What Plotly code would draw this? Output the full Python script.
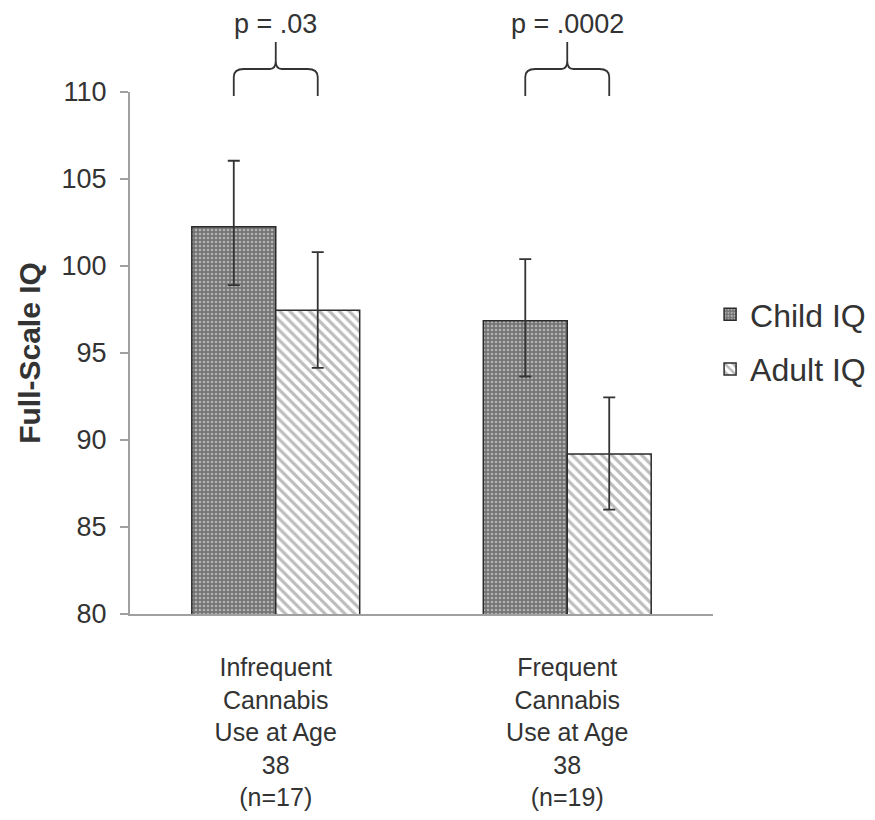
import plotly.graph_objects as go

categories = ["Infrequent<br>Cannabis<br>Use at Age<br>38<br>(n=17)",
              "Frequent<br>Cannabis<br>Use at Age<br>38<br>(n=19)"]
child_iq = [102.25, 96.85]
child_err_plus = [3.8, 3.55]
child_err_minus = [3.35, 3.2]
adult_iq = [97.45, 89.2]
adult_err_plus = [3.35, 3.25]
adult_err_minus = [3.3, 3.2]
p_labels = ["p = .03", "p = .0002"]

FONT = "Liberation Sans, Arial, sans-serif"
TXT = "#333333"

fig = go.Figure()
fig.add_trace(go.Bar(
    name="Child IQ", x=[0, 1], y=child_iq, legendgroup="c",
    marker=dict(color="#7a7a7a", line=dict(color="#2b2b2b", width=1.5),
                pattern=dict(shape=".", bgcolor="#747474", fgcolor="#f2f2f2",
                             size=4, solidity=0.35)),
    error_y=dict(type="data", array=child_err_plus, arrayminus=child_err_minus,
                 color="#333333", thickness=1.8, width=6),
))
fig.add_trace(go.Bar(
    name="Adult IQ", x=[0, 1], y=adult_iq, legendgroup="a",
    marker=dict(color="white", line=dict(color="#2b2b2b", width=1.5),
                pattern=dict(shape="\\", bgcolor="white", fgcolor="#7a7a7a",
                             size=7, solidity=0.45)),
    error_y=dict(type="data", array=adult_err_plus, arrayminus=adult_err_minus,
                 color="#333333", thickness=1.8, width=6),
))

# braces between paired bars
half = (1 - 0.424) / 4  # half distance between bar centers within group
rx = 10 / 291.5
yb, yh, yt = (614 - 96) / 522, (614 - 69) / 522, (614 - 42) / 522
ry = 8 / 522
for i, lab in enumerate(p_labels):
    cx = i
    L, R = cx - half, cx + half
    path = (f"M{L},{yb} L{L},{yh-ry} Q{L},{yh} {L+rx},{yh} "
            f"L{cx-rx*0.6},{yh} Q{cx},{yh} {cx},{yh+ry} L{cx},{yt} "
            f"M{R},{yb} L{R},{yh-ry} Q{R},{yh} {R-rx},{yh} "
            f"L{cx+rx*0.6},{yh} Q{cx},{yh} {cx},{yh+ry}")
    fig.add_shape(type="path", path=path, xref="x", yref="paper",
                  line=dict(color="#333333", width=1.8))
    fig.add_annotation(x=cx, y=(614 - 8) / 522, xref="x", yref="paper",
                       yanchor="top", borderpad=0, text=lab, showarrow=False,
                       font=dict(family=FONT, size=27, color=TXT))

fig.update_layout(
    width=875, height=820,
    margin=dict(l=122, r=170, t=84, b=214),
    paper_bgcolor="white", plot_bgcolor="white",
    barmode="group", bargap=0.424, bargroupgap=0,
    font=dict(family=FONT, color=TXT),
    legend=dict(x=0.995, y=0.521, xanchor="left", yanchor="middle",
                font=dict(family=FONT, size=32, color=TXT),
                traceorder="grouped", tracegroupgap=10,
                bgcolor="rgba(0,0,0,0)"),
    xaxis=dict(tickmode="array", tickvals=[0, 1], ticktext=categories,
               range=[-0.5, 1.5], showline=True, linecolor="#a0a0a0",
               linewidth=2, ticks="", showgrid=False, zeroline=False,
               tickfont=dict(family=FONT, size=25, color=TXT),
               ticklabelstandoff=30, automargin=False),
    yaxis=dict(range=[80, 110], tickvals=[80, 85, 90, 95, 100, 105, 110],
               showline=True, linecolor="#a0a0a0", linewidth=2,
               ticks="outside", ticklen=8, tickcolor="#a0a0a0", tickwidth=2,
               showgrid=False, zeroline=False, automargin=False,
               tickfont=dict(family=FONT, size=27, color=TXT),
               ticklabelstandoff=8,
               title=dict(text="<b>Full-Scale IQ</b>", standoff=12,
                          font=dict(family=FONT, size=30, color=TXT))),
)

fig.write_html("out.html")
